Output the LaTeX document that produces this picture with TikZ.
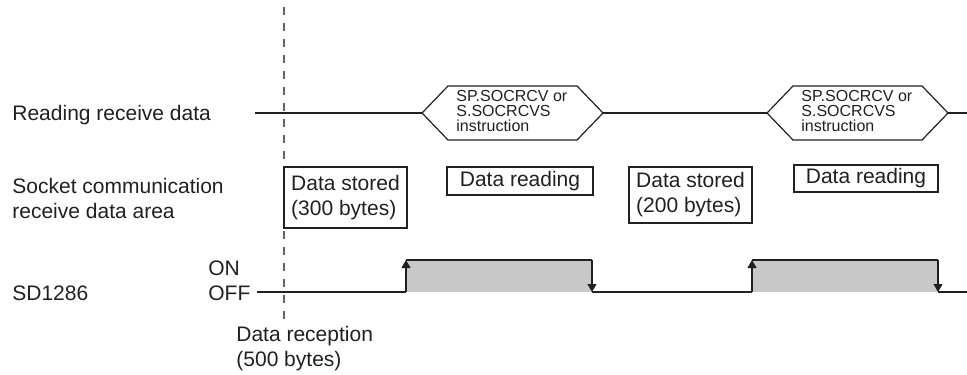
\documentclass[tikz,border=0pt]{standalone}
\usepackage{fontspec}
\setmainfont{Liberation Sans}
\usetikzlibrary{arrows.meta,positioning,calc}
\definecolor{inkcol}{RGB}{35,31,32}
\definecolor{pulsecol}{RGB}{200,200,200}
\definecolor{markcol}{RGB}{100,100,100}

\begin{document}
\begin{tikzpicture}[
    x=0.5pt, y=-0.5pt,
    >={Triangle[length=4pt,width=4.5pt]},
    sidetext/.style={anchor=west, align=left, inner sep=0pt, font=\fontsize{10.5}{12.5}\selectfont, text=inkcol},
    areabox/.style={draw=inkcol, line width=0.6pt, inner sep=0pt, align=left, font=\fontsize{10.5}{12.5}\selectfont, text=inkcol},
    hextext/.style={anchor=west, align=left, inner sep=0pt, font=\fontsize{8}{7.6}\selectfont, text=inkcol},
    wave/.style={draw=inkcol, line width=0.6pt},
    marker/.style={draw=markcol, line width=0.7pt, dash pattern=on 4pt off 4pt},
]
\useasboundingbox (0,0) rectangle (967,374);

% row labels
\node[sidetext, anchor=base west] (readLbl) at (12,120) {Reading receive data};
\node[sidetext] (areaLbl) at (12,198) {Socket communication\\receive data area};
\node[sidetext, anchor=base west] (sdLbl) at (12,300) {SD1286};
\node[sidetext, anchor=base west] (onLbl) at (208,275) {ON};
\node[sidetext, anchor=base west] (offLbl) at (208,300) {OFF};

% data reception marker
\coordinate (rcvTop) at (284,7);
\coordinate (rcvBot) at (284,322);
\draw[marker] (rcvTop) -- (rcvBot);
\node[sidetext] (rcvLbl) at (236,349) {Data reception\\(500 bytes)};

% reading receive data
\coordinate (rdStart) at (255,113);
\coordinate (rdEnd) at (967,113);
\foreach \n/\x in {A/422,B/767} {
    \draw[wave] (\x,113) coordinate (hex\n W) -- ++(26,-27) -- ++(129,0) -- ++(26,27) coordinate (hex\n E) -- ++(-26,27) -- ++(-129,0) -- cycle;
    \node[hextext] (hexText\n) at (\x+34,111) {SP.SOCRCV or\\S.SOCRCVS\\instruction};
}
\draw[wave] (rdStart) -- (hexAW) (hexAE) -- (hexBW) (hexBE) -- (rdEnd);

% receive data area
\node[areabox, minimum width=61.5pt, minimum height=30.5pt] (store1) at (345.5,197.5) {Data stored\\(300 bytes)};
\node[areabox, minimum width=73pt, minimum height=14pt] (read1) at (520,181) {Data reading};
\node[areabox, minimum width=61.5pt, minimum height=28pt] (store2) at (690.5,195) {Data stored\\(200 bytes)};
\node[areabox, minimum width=72pt, minimum height=13.5pt] (read2) at (866,178.5) {Data reading};

% SD1286
\coordinate (offStart) at (257,292);
\coordinate (sdEnd) at (967,292);
\foreach \n/\a/\b in {1/406/592, 2/752/938} {
    \fill[pulsecol] (\a,260) rectangle (\b,292);
    \coordinate (rise\n) at (\a,292);
    \coordinate (high\n) at (\a,260);
    \coordinate (fall\n) at (\b,260);
    \coordinate (low\n) at (\b,292);
    \draw[wave, ->] (rise\n) -- (high\n);
    \draw[wave] (high\n) -- (fall\n);
    \draw[wave, ->] (fall\n) -- (low\n);
}
\draw[wave] (offStart) -- (rise1) (low1) -- (rise2) (low2) -- (sdEnd);
\end{tikzpicture}
\end{document}
